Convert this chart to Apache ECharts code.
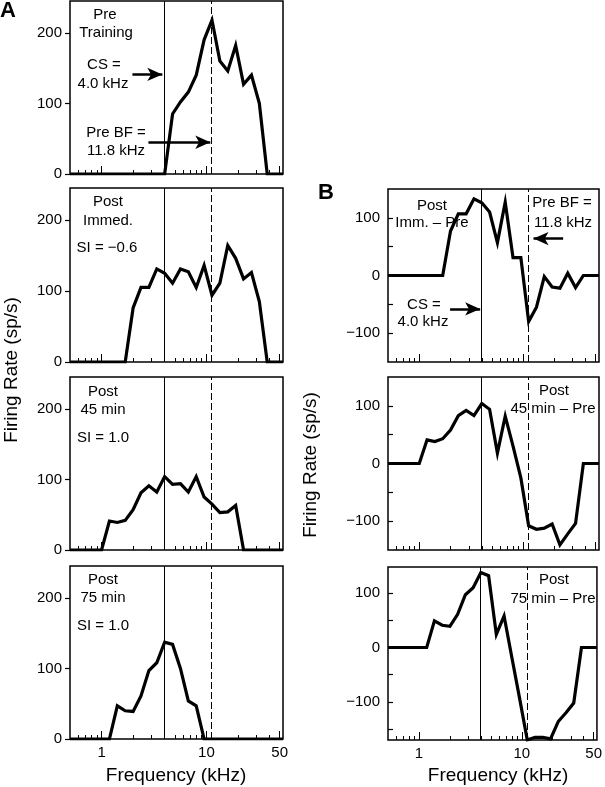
<!DOCTYPE html>
<html><head><meta charset="utf-8">
<script src="https://cdn.jsdelivr.net/npm/echarts@6/dist/echarts.min.js"></script>
<style>html,body{margin:0;padding:0;background:#fff}#c{width:605px;height:787px}</style>
</head><body><div id="c"></div>
<script>
// Frequencies (kHz), quarter-octave grid
const freqs = [0.5, 0.595, 0.707, 0.841, 1.0, 1.189, 1.414, 1.682, 2.0, 2.378, 2.828, 3.364,
  4.0, 4.757, 5.657, 6.727, 8.0, 9.514, 11.31, 13.45, 16.0, 19.03, 22.63, 26.91, 32.0, 38.05, 45.25, 53.82];
// Panel A (firing rate, sp/s)
const preTraining = [0,0,0,0,0,0,0,0,0,0,0,0,0, 85,102,116,140,190,218,160,146,182,127,140,100, 0,0,0];
const postImmed   = [0,0,0,0,0,0,0,0, 76,105,105,131,125,111,131,127,105,136,94,111,164,146,117,126,85, 0,0,0];
const post45      = [0,0,0,0,0, 41,39,42,57,81,91,82,104,93,94,82,104,75,65,53,54,63, 0,0,0,0,0,0];
const post75      = [0,0,0,0,0,0, 47,40,39,61,97,108,137,134,100,54,47, 0,0,0,0,0,0,0,0,0,0,0];
// Panel B (difference, sp/s)
const diffImm = [0,0,0,0,0,0,0,0, 77,107,107,133,126,110,57,127,31,31,-80,-55,-2,-20,-22,4,-21, 0,0,0];
const diff45  = [0,0,0,0,0, 41,38,43,58,83,92,83,104,94,18,82,30,-25,-108,-114,-112,-105,-141,-122,-104, 0,0,0];
const diff75  = [0,0,0,0,0,0, 49,41,39,61,97,110,138,132,24,58,-18,-93,-170,-165,-165,-168,-136,-120,-102, 0,0,0];
// Axis ticks
const xMajorTicks = [1, 10, 50];
const xMinorTicks = [0.6,0.7,0.8,0.9,2,3,4,5,6,7,8,9,20,30,40];
const xMin = 0.5, xMax = 53.82;
const csFreq = 4.0, bfFreq = 11.31;
const aYTicks = [0, 100, 200];
const bYLabels = [-100, 0, 100];
const bYTicks = [-150, -100, -50, 0, 50, 100];

const FONT = "'Liberation Sans', Arial, Helvetica, sans-serif";
const L = Math.log10;

const panels = [
  {data: preTraining, left: 70, top: 1, width: 213, height: 173, ymin: 0, ymax: 245, col: 'A', bottom: false,
   arrows: [[1.97, 3.8, 141], [2.8, 10.9, 45]]},
  {data: postImmed, left: 70, top: 188, width: 213, height: 174, ymin: 0, ymax: 245, col: 'A', bottom: false},
  {data: post45, left: 70, top: 377, width: 213, height: 173, ymin: 0, ymax: 245, col: 'A', bottom: false},
  {data: post75, left: 70, top: 566, width: 213, height: 173, ymin: 0, ymax: 245, col: 'A', bottom: true},
  {data: diffImm, left: 388, top: 189, width: 211, height: 173, ymin: -150, ymax: 150, col: 'B', bottom: false,
   arrows: [[24.3, 12.6, 64], [1.98, 3.86, -58]]},
  {data: diff45, left: 388, top: 377, width: 211, height: 173, ymin: -150, ymax: 150, col: 'B', bottom: false},
  {data: diff75, left: 388, top: 567, width: 211, height: 173, ymin: -170, ymax: 148, col: 'B', bottom: true},
];

const grid = [], xAxis = [], yAxis = [], series = [];
const minus = s => String(s).replace('-', '\u2212');

panels.forEach((p, i) => {
  grid.push({left: p.left, top: p.top, width: p.width, height: p.height, show: true,
    borderColor: '#000', borderWidth: 1.5, backgroundColor: 'transparent', containLabel: false});
  xAxis.push({type: 'value', gridIndex: i, position: 'bottom', min: L(xMin), max: L(xMax), splitLine: {show: false},
    axisLine: {show: false, onZero: false},
    axisTick: {show: true, inside: true, length: 8, lineStyle: {color: '#000', width: 1}, customValues: xMajorTicks.map(L)},
    axisLabel: {show: p.bottom, customValues: xMajorTicks.map(L), margin: 6, fontSize: 15, color: '#000', fontFamily: FONT,
      formatter: v => String(Math.round(Math.pow(10, v)))}});
  xAxis.push({type: 'value', gridIndex: i, position: 'bottom', min: L(xMin), max: L(xMax), splitLine: {show: false},
    axisLine: {show: false, onZero: false},
    axisTick: {show: true, inside: true, length: 4, lineStyle: {color: '#000', width: 1}, customValues: xMinorTicks.map(L)},
    axisLabel: {show: false}});
  const isA = p.col === 'A';
  let ticks = isA ? aYTicks : bYTicks.filter(t => t > p.ymin && t < p.ymax);
  yAxis.push({type: 'value', gridIndex: i, position: 'left', min: p.ymin, max: p.ymax, splitLine: {show: false},
    axisLine: {show: false, onZero: false},
    axisTick: {show: true, inside: !isA, length: 5, lineStyle: {color: '#000', width: 1.2}, customValues: ticks},
    axisLabel: {show: true, customValues: isA ? aYTicks : bYLabels, margin: 8, fontSize: 15, color: '#000', fontFamily: FONT,
      formatter: v => minus(v)}});
  const markData = [
    {xAxis: L(csFreq), lineStyle: {type: 'solid', width: 1, color: '#000'}},
    {xAxis: L(bfFreq), lineStyle: {type: [7, 3], width: 1, color: '#000'}},
  ];
  (p.arrows || []).forEach(a => {
    markData.push([{coord: [L(a[0]), a[2]], symbol: 'none'}, {coord: [L(a[1]), a[2]], symbol: 'arrow', symbolSize: [10, 15]}]);
  });
  series.push({type: 'line', xAxisIndex: 2 * i, yAxisIndex: i, showSymbol: false, symbol: 'none', smooth: false,
    clip: true, animation: false, z: 5,
    lineStyle: {color: '#000', width: 3.2, join: 'miter'},
    data: freqs.map((f, k) => [L(f), p.data[k]]),
    markLine: {silent: true, animation: false, symbol: 'none', label: {show: false},
      lineStyle: {color: '#000', width: 2.5, type: 'solid'}, emphasis: {disabled: true},
      data: markData}});
});

const texts = [
  ['Pre', 105, 15], ['Training', 106, 33], ['CS =', 104, 65], ['4.0 kHz', 103, 84], ['Pre BF =', 116, 133], ['11.8 kHz', 116, 151],
  ['Post', 108, 202], ['Immed.', 108, 221], ['SI = \u22120.6', 107, 248],
  ['Post', 103, 392], ['45 min', 103, 410], ['SI = 1.0', 103, 438],
  ['Post', 103, 580], ['75 min', 103, 598], ['SI = 1.0', 103, 626],
  ['Post', 432, 206], ['Imm. \u2013 Pre', 432, 223], ['Pre BF =', 562, 203], ['11.8 kHz', 563, 223], ['CS =', 424, 305], ['4.0 kHz', 423, 322],
  ['Post', 554, 391], ['45 min \u2013 Pre', 553, 409],
  ['Post', 554, 580], ['75 min \u2013 Pre', 553, 599],
];
const graphic = texts.map(t => ({type: 'text', x: t[1], y: t[2], z: 1, silent: true,
  style: {text: t[0], x: 0, y: 0, fill: '#000', font: '15px ' + FONT, textAlign: 'center', textVerticalAlign: 'middle', align: 'center', verticalAlign: 'middle'}}));
[['A', 8, 11], ['B', 326, 193]].forEach(t => graphic.push({type: 'text', x: t[1], y: t[2], silent: true,
  style: {text: t[0], x: 0, y: 0, fill: '#000', font: 'bold 22px ' + FONT, textAlign: 'center', textVerticalAlign: 'middle', align: 'center', verticalAlign: 'middle'}}));
[['Firing Rate (sp/s)', 12, 370, Math.PI / 2], ['Firing Rate (sp/s)', 311, 465, Math.PI / 2],
 ['Frequency (kHz)', 176, 776, 0], ['Frequency (kHz)', 498, 776, 0]].forEach(t => graphic.push({type: 'text', x: t[1], y: t[2], rotation: t[3], silent: true,
  style: {text: t[0], x: 0, y: 0, fill: '#000', font: '19px ' + FONT, textAlign: 'center', textVerticalAlign: 'middle', align: 'center', verticalAlign: 'middle'}}));

const chart = echarts.init(document.getElementById('c'), null, {renderer: 'canvas'});
chart.setOption({animation: false, backgroundColor: '#fff', grid, xAxis, yAxis, series, graphic});
</script></body></html>
